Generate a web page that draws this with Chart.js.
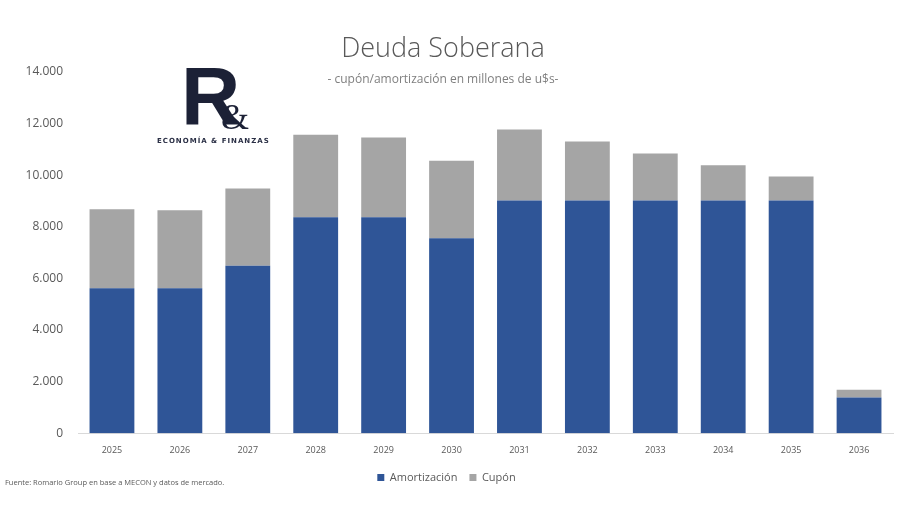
<!DOCTYPE html>
<html lang="es">
<head>
<meta charset="UTF-8">
<title>Deuda Soberana</title>
<script src="https://cdn.jsdelivr.net/npm/chart.js"></script>
<style>
body { margin: 0; background: #fff; font-family: 'Open Sans', 'Noto Sans', sans-serif; }
.wrap { position: relative; width: 900px; height: 505px; overflow: hidden; }
#chart { position: absolute; left: 0; top: 0; }
.titulo { position: absolute; left: 0; width: 886px; top: 28px; text-align: center; font-size: 27px; font-weight: 300; color: #595959; }
.subtitulo { position: absolute; left: 0; width: 886px; top: 70px; text-align: center; font-size: 12px; color: #7f7f7f; }
.logo-r { position: absolute; left: 181px; top: 55px; font-family: 'Liberation Sans', sans-serif; font-weight: 700; font-size: 82px; color: #1c2136; line-height: 1; }
.logo-amp { position: absolute; left: 221px; top: 99px; font-family: 'Liberation Serif', serif; font-size: 36px; color: #1c2136; line-height: 1; }
.logo-txt { position: absolute; left: 157px; top: 137px; font-family: 'DejaVu Sans', sans-serif; font-weight: 700; font-size: 7px; letter-spacing: 1px; color: #2a2f45; }
.fuente { position: absolute; left: 5px; top: 477px; font-size: 7.5px; color: #595959; }
</style>
</head>
<body>
<div class="wrap">
    <canvas id="chart" width="900" height="505"></canvas>
    <div class="titulo">Deuda Soberana</div>
    <div class="subtitulo">- cupón/amortización en millones de u$s-</div>
    <div class="logo-r">R</div>
    <div class="logo-amp">&amp;</div>
    <div class="logo-txt">ECONOMÍA &amp; FINANZAS</div>
    <div class="fuente">Fuente: Romario Group en base a MECON y datos de mercado.</div>
</div>
<script>
// datos (millones de u$s)
const anios = ['2025', '2026', '2027', '2028', '2029', '2030', '2031', '2032', '2033', '2034', '2035', '2036'];
const amortizacion = [5620, 5620, 6490, 8370, 8370, 7560, 9020, 9020, 9020, 9020, 9020, 1380];
const cupon = [3060, 3020, 2990, 3200, 3090, 3000, 2750, 2290, 1820, 1370, 930, 300];

function miles(v) {
    return String(v).replace(/\B(?=(\d{3})+(?!\d))/g, '.');
}

const ctx = document.getElementById('chart').getContext('2d');
new Chart(ctx, {
    type: 'bar',
    data: {
        labels: anios,
        datasets: [
            {
                label: 'Amortización',
                data: amortizacion,
                backgroundColor: '#2f5597',
                barPercentage: 0.66,
                categoryPercentage: 1
            },
            {
                label: 'Cupón',
                data: cupon,
                backgroundColor: '#a5a5a5',
                barPercentage: 0.66,
                categoryPercentage: 1
            }
        ]
    },
    options: {
        responsive: false,
        animation: false,
        layout: { padding: { left: 0, right: 7, top: 72, bottom: 12 } },
        plugins: {
            legend: {
                position: 'bottom',
                labels: {
                    boxWidth: 7,
                    boxHeight: 7,
                    padding: 12,
                    color: '#595959',
                    font: { family: "'Open Sans', 'Noto Sans', sans-serif", size: 11 }
                }
            },
            tooltip: { enabled: false }
        },
        scales: {
            x: {
                stacked: true,
                grid: { display: false },
                border: { color: '#d9d9d9' },
                ticks: {
                    color: '#595959',
                    padding: 4,
                    font: { family: "'Open Sans', 'Noto Sans', sans-serif", size: 9 }
                }
            },
            y: {
                stacked: true,
                min: 0,
                max: 14000,
                grid: { display: false, drawTicks: false },
                border: { display: false },
                afterFit: function(scale) { scale.width = 78; },
                ticks: {
                    stepSize: 2000,
                    padding: 15,
                    color: '#595959',
                    font: { family: "'Open Sans', 'Noto Sans', sans-serif", size: 12 },
                    callback: function(v) { return miles(v); }
                }
            }
        }
    }
});
</script>
</body>
</html>
